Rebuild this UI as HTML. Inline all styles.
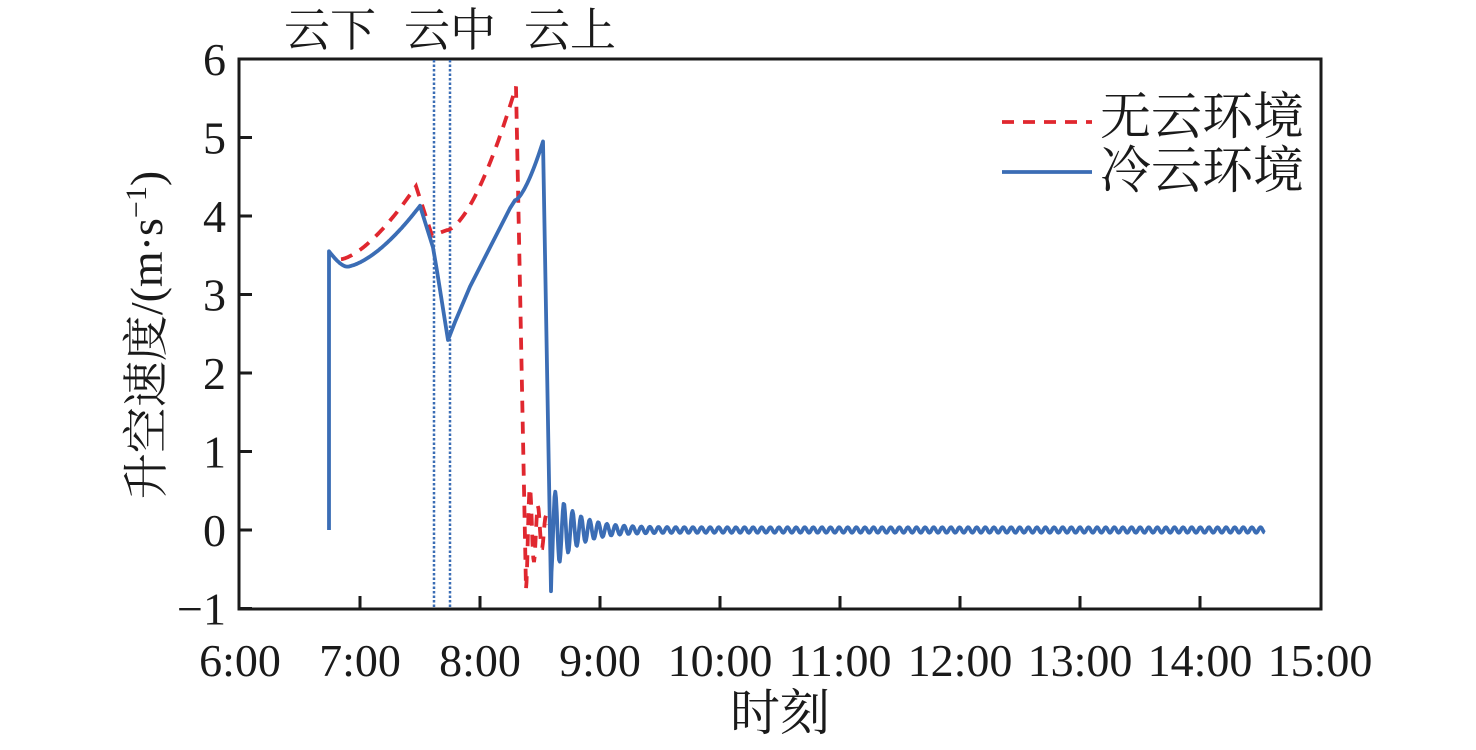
<!DOCTYPE html>
<html><head><meta charset="utf-8"><style>
body{margin:0;background:#fff}
svg text{font-family:"Liberation Serif","Noto Serif CJK SC",serif;fill:#1a1a1a}
</style></head><body>
<svg id="s" width="1476" height="745" xmlns="http://www.w3.org/2000/svg">
<rect x="239" y="59" width="1082" height="550" fill="none" stroke="#1a1a1a" stroke-width="3"/>
<g id="ticks" stroke="#1a1a1a" stroke-width="3"></g>
<g font-size="46" text-anchor="end" id="yl"></g>
<g font-size="46" text-anchor="middle" id="xl"></g>
<line x1="434" y1="60" x2="434" y2="608" stroke="#3a6db5" stroke-width="2.5" stroke-dasharray="2.5,2"/>
<line x1="450" y1="60" x2="450" y2="608" stroke="#3a6db5" stroke-width="2.5" stroke-dasharray="2.5,2"/>
<path id="red" fill="none" stroke="#e0272f" stroke-width="3.8" stroke-dasharray="12,9"/>
<path id="blue" fill="none" stroke="#3b6db5" stroke-width="3.8" stroke-linejoin="round"/>
<text x="284" y="46" font-size="46">云下</text>
<text x="404" y="46" font-size="46">云中</text>
<text x="524" y="46" font-size="46">云上</text>
<line x1="1002" y1="122" x2="1092" y2="122" stroke="#e0272f" stroke-width="3.8" stroke-dasharray="12,9"/>
<line x1="1002" y1="172" x2="1092" y2="172" stroke="#3b6db5" stroke-width="3.8"/>
<text x="1100" y="134" font-size="51">无云环境</text>
<text x="1100" y="188" font-size="51">冷云环境</text>
<text transform="translate(162,335) rotate(-90)" font-size="46" text-anchor="middle">升空速度/(m·s<tspan font-size="30" dy="-16">−1</tspan><tspan dy="16">)</tspan></text>
<text x="780" y="730" font-size="50" text-anchor="middle">时刻</text>
</svg>
<script>
var Y=v=>530-78.5*v, X=t=>240+(t-6)*120;
var tk=document.getElementById('ticks'),yl=document.getElementById('yl'),xl=document.getElementById('xl');
var h='';for(var v=-1;v<=6;v++){h+='<line x1="239" x2="252" y1="'+Y(v)+'" y2="'+Y(v)+'"/>';}
for(var t=7;t<15;t++){h+='<line y1="609" y2="596" x1="'+X(t)+'" x2="'+X(t)+'"/>';}
tk.innerHTML=h;
h='';for(var v=-1;v<=6;v++){h+='<text x="226" y="'+(Y(v)+16)+'">'+(v<0?'−1':v)+'</text>';}yl.innerHTML=h;
h='';for(var t=6;t<=15;t++){h+='<text x="'+X(t)+'" y="676">'+t+':00</text>';}xl.innerHTML=h;
function seg(pts){return pts.map((p,i)=>(i?'L':'M')+p[0].toFixed(1)+','+Y(p[1]).toFixed(1)).join('');}
var b=[[329,0],[329,3.55]];
for(var x=330;x<=420;x++){b.push([x,3.55-0.2*Math.sin(Math.min(1,(x-329)/20)*Math.PI/2)+ (x>345?0.78*Math.pow((x-345)/75,1.6):0)]);}
b.push([433,3.6],[437,3.3],[448,2.42],[455,2.65],[470,3.1],[490,3.6],[510,4.1],[515,4.2]);
for(var x=516;x<=543;x++){b.push([x,4.2+0.75*Math.pow((x-515)/28,1.5)]);}
b.push([551,-0.78]);
for(var x=551.5;x<=1265;x+=0.75){var a=0.55*Math.exp(-(x-551)/22)+0.035;b.push([x,-a*Math.cos((x-551)*2*Math.PI/8.6)]);}
document.getElementById('blue').setAttribute('d',seg(b));
var r=[[341,3.45]];
for(var x=342;x<=416;x++){r.push([x,3.45+0.93*Math.pow((x-341)/75,1.5)]);}
r.push([432,3.75],[447,3.82]);
for(var x=448;x<=516;x++){r.push([x,3.82+1.83*Math.pow((x-447)/69,1.6)]);}
r.push([526,-0.75]);
for(var x=526.5;x<=548;x+=0.75){var a=0.7*Math.exp(-(x-526)/12)+0.05;r.push([x,-a*Math.cos((x-526)*2*Math.PI/8)]);}
document.getElementById('red').setAttribute('d',seg(r));
</script>
</body></html>
